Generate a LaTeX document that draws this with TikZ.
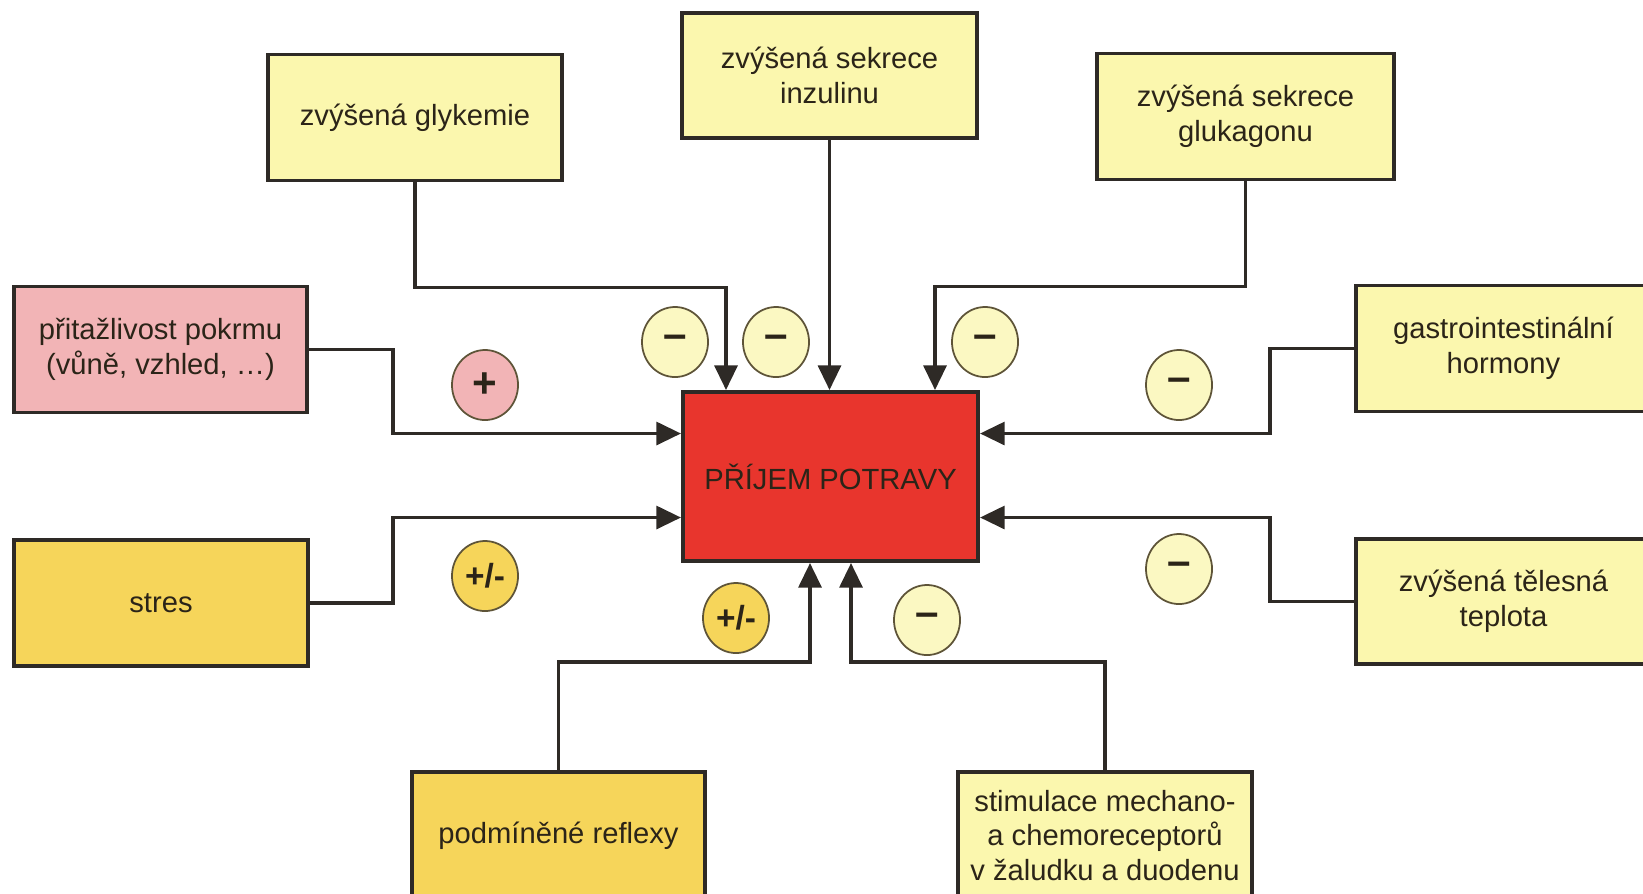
\documentclass[tikz,border=0pt]{standalone}
\usepackage{fontspec}
\setmainfont{Liberation Sans}
\usetikzlibrary{arrows.meta,shapes.geometric}

\definecolor{paleyellow}{HTML}{FBF7AE}
\definecolor{palepink}{HTML}{F2B4B6}
\definecolor{gold}{HTML}{F6D55A}
\definecolor{intakered}{HTML}{E8352D}
\definecolor{signyellow}{HTML}{FBF8C2}
\definecolor{linecol}{HTML}{2E2A26}
\definecolor{textcol}{HTML}{2B2418}
\definecolor{signline}{HTML}{5E5438}

\tikzset{
    factor/.style={draw=linecol, line width=1.1pt, align=center, inner sep=0pt,
        text=textcol, font=\fontsize{8.3}{9.9}\selectfont,
        minimum width=2.94cm, minimum height=1.26cm},
    sign/.style={ellipse, draw=signline, line width=0.5pt, inner sep=0pt,
        minimum width=0.66cm, minimum height=0.70cm, text=textcol,
        font=\bfseries\fontsize{9.5}{10}\selectfont},
    bigsign/.style={sign, font=\bfseries\fontsize{12}{12}\selectfont},
    feed/.style={draw=linecol, line width=1pt, -{Triangle[length=7pt,width=6.5pt]}},
}

\begin{document}
\begin{tikzpicture}[x=0.01cm, y=-0.01cm]
        \clip (0,0) rectangle (1643,893);

        % Central box
        \node[factor, fill=intakered, minimum width=2.95cm, minimum height=1.69cm] (prijem) at (830.5,476.5) {PŘÍJEM POTRAVY};

        % Factors above
        \node[factor, fill=paleyellow] (glykemie) at (415,117.5) {zvýšená glykemie};
        \node[factor, fill=paleyellow, minimum height=1.25cm] (inzulin) at (829.5,75.5) {zvýšená sekrece\\inzulinu};
        \node[factor, fill=paleyellow, minimum width=2.97cm] (glukagon) at (1245.5,116.5) {zvýšená sekrece\\glukagonu};

        % Factors on the left
        \node[factor, fill=palepink, minimum width=2.93cm] (pritazlivost) at (160.5,349.5) {přitažlivost pokrmu\\(vůně, vzhled, …)};
        \node[factor, fill=gold] (stres) at (161,603) {stres};

        % Factors on the right
        \node[factor, fill=paleyellow, minimum width=2.95cm] (gastro) at (1503.5,348.5) {gastrointestinální\\hormony};
        \node[factor, fill=paleyellow, minimum width=2.95cm, minimum height=1.25cm] (teplota) at (1503.5,601.5) {zvýšená tělesná\\teplota};

        % Factors below
        \node[factor, fill=gold, minimum width=2.93cm, minimum height=1.27cm] (reflexy) at (558.5,835.5) {podmíněné reflexy};
        \node[factor, fill=paleyellow, minimum height=1.27cm] (stimulace) at (1105,835.5) {stimulace mechano-\\a chemoreceptorů\\v žaludku a duodenu};

        % Connectors
        \draw[feed] (glykemie.south) -- ++(0,105) -| ([shift={(-104.5,0)}]prijem.north);
        \draw[feed] (inzulin.south) -- (inzulin.south |- prijem.north);
        \draw[feed] (glukagon.south) -- ++(0,105) -| ([shift={(104.5,0)}]prijem.north);
        \draw[feed] (pritazlivost.east) -- ++(84,0) |- ([shift={(0,-43)}]prijem.west);
        \draw[feed] (stres.east) -- ++(83,0) |- ([shift={(0,41)}]prijem.west);
        \draw[feed] (gastro.west) -- ++(-84,0) |- ([shift={(0,-43)}]prijem.east);
        \draw[feed] (teplota.west) -- ++(-84,0) |- ([shift={(0,41)}]prijem.east);
        \draw[feed] (reflexy.north) -- ++(0,-108) -| ([shift={(-20.5,0)}]prijem.south);
        \draw[feed] (stimulace.north) -- ++(0,-108) -| ([shift={(20.5,0)}]prijem.south);

        % Signs of the effects
        \node[bigsign, fill=signyellow] (s1) at (675,342) {–};
        \node[bigsign, fill=signyellow] (s2) at (776,342) {–};
        \node[bigsign, fill=signyellow] (s3) at (985,342) {–};
        \node[bigsign, fill=palepink] (s4) at (485,385) {+};
        \node[sign, fill=gold] (s5) at (485,576) {+/-};
        \node[bigsign, fill=signyellow] (s6) at (1179,385) {–};
        \node[bigsign, fill=signyellow] (s7) at (1179,569) {–};
        \node[sign, fill=gold] (s8) at (736,618) {+/-};
        \node[bigsign, fill=signyellow] (s9) at (927,620) {–};
    \end{tikzpicture}
\end{document}
